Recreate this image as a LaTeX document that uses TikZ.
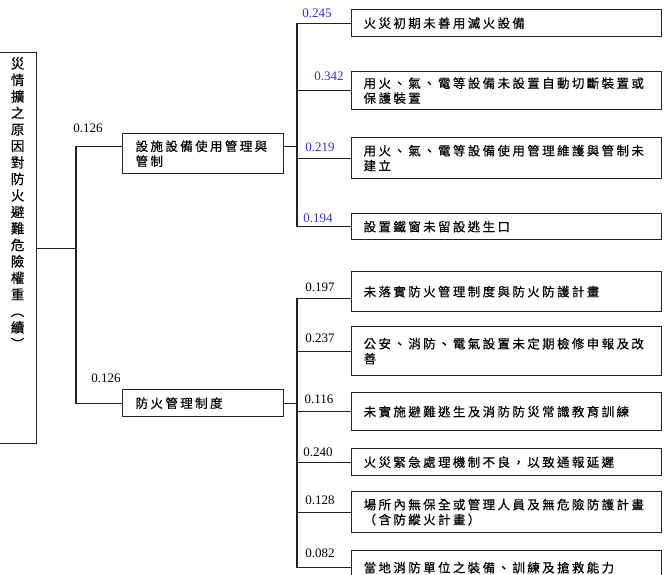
\documentclass[tikz,border=0pt]{standalone}
\usepackage{fontspec}
\setmainfont{Liberation Serif}
\newfontfamily\cjk[LetterSpace=19,FakeBold=0.4]{Noto Sans CJK TC}
\newfontfamily\cjkdik[FakeBold=0.4]{Noto Sans CJK TC}
\usetikzlibrary{positioning}
\definecolor{agirlikMavi}{HTML}{3333CC}
\definecolor{cizgiGri}{HTML}{222222}

\begin{document}
\begin{tikzpicture}[x=1pt,y=-1pt, every node/.style={font=\fontsize{13}{15}\selectfont},
  kutu/.style={draw=cizgiGri,line width=1.3pt,anchor=north west,inner xsep=12pt,inner ysep=0pt,
               text width=286pt,align=left,font=\cjk\fontsize{12.5}{15}\selectfont},
  anaKutu/.style={kutu,inner xsep=13pt,text width=135pt},
  agirlik/.style={inner sep=0pt},
  bag/.style={draw=cizgiGri,line width=1.3pt}]
\useasboundingbox (0,0) rectangle (666,574);
\clip (0,0) rectangle (666,574);
\node[draw=cizgiGri,line width=1.3pt,anchor=north west,minimum width=38pt,minimum height=391pt] (kok) at (-2,52) {};
\node[anchor=north,inner sep=0pt,align=center,font=\cjkdik\fontsize{13.5}{16.5}\selectfont] (kokYazi) at ([yshift=-5pt]kok.north)
  {災\\情\\擴\\之\\原\\因\\對\\防\\火\\避\\難\\危\\險\\權\\重\\︵\\續\\︶};
\node[anaKutu,minimum height=40pt] (b1) at (122,133) {設施設備使用管理與\\管制};
\node[anaKutu,minimum height=27pt] (b2) at (122,389) {防火管理制度};
\node[agirlik] (w1) at (88,128) {0.126};
\node[agirlik] (w2) at (106,378) {0.126};
\node[kutu,minimum height=27pt] (a) at (351,9) {火災初期未善用滅火設備};
\node[kutu,minimum height=38pt] (b) at (351,71) {用火、氣、電等設備未設置自動切斷裝置或\\保護裝置};
\node[kutu,minimum height=41pt] (c) at (351,137) {用火、氣、電等設備使用管理維護與管制未\\建立};
\node[kutu,minimum height=26pt] (d) at (351,213) {設置鐵窗未留設逃生口};
\node[kutu,minimum height=40pt] (e) at (351,271) {未落實防火管理制度與防火防護計畫};
\node[kutu,minimum height=49pt] (f) at (351,326) {公安、消防、電氣設置未定期檢修申報及改\\善};
\node[kutu,minimum height=38pt] (g) at (351,392) {未實施避難逃生及消防防災常識教育訓練};
\node[kutu,minimum height=27pt] (h) at (351,448) {火災緊急處理機制不良，以致通報延遲};
\node[kutu,minimum height=41pt] (i) at (351,491) {場所內無保全或管理人員及無危險防護計畫\\（含防縱火計畫）};
\node[kutu,minimum height=34pt] (j) at (351,550) {當地消防單位之裝備、訓練及搶救能力};
\foreach \n/\v/\x/\y in {wa/0.245/317/13, wb/0.342/329/76, wc/0.219/320/147, wd/0.194/318/218}
  \node[agirlik,agirlikMavi] (\n) at (\x,\y) {\v};
\foreach \n/\v/\x/\y in {we/0.197/320/287, wf/0.237/320/338, wg/0.116/319/399, wh/0.240/318/452, wi/0.128/320/500, wj/0.082/320/553}
  \node[agirlik] (\n) at (\x,\y) {\v};
\coordinate (s1) at (kok.east -| 76,0);
\coordinate (s2) at ([yshift=7pt]b1.east -| 297,0);
\coordinate (s3) at (b2.east -| 297,0);
\draw[bag] (kok.east) -- (s1);
\draw[bag] ([yshift=7pt]b1.west) -| (s1) |- (b2.west);
\draw[bag] ([yshift=7pt]b1.east) -- (s2);
\draw[bag] (a.west) -| (s2) |- (d.west);
\foreach \n in {b,c} \draw[bag] (\n.west) -- (\n.west -| s2);
\draw[bag] (b2.east) -- (s3);
\draw[bag] ([yshift=-7pt]e.west) -| (s3) |- (j.west);
\foreach \n in {f,g,h,i} \draw[bag] (\n.west) -- (\n.west -| s3);
\end{tikzpicture}
\end{document}
